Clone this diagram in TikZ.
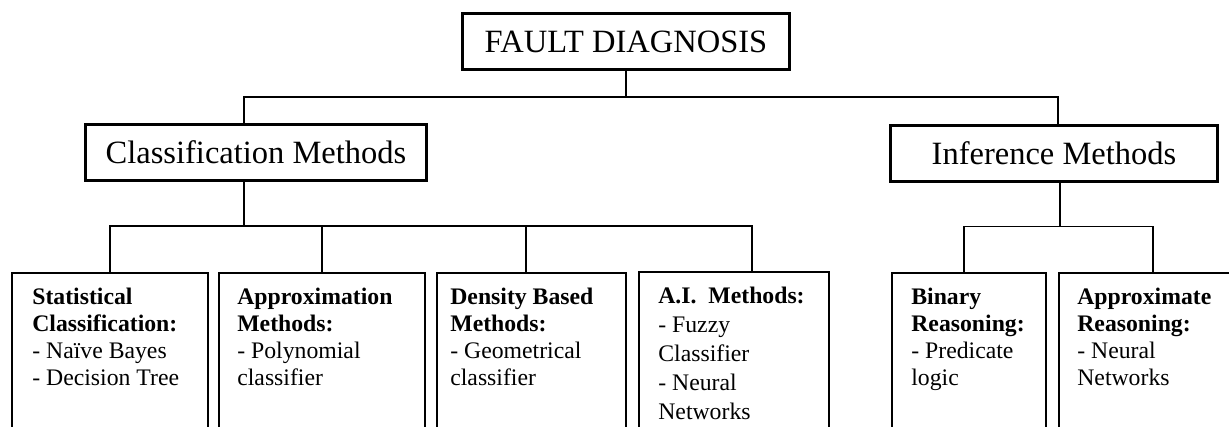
\documentclass[tikz,border=0pt]{standalone}
\usepackage{fontspec}
\setmainfont{Liberation Serif}
\begin{document}
\begin{tikzpicture}[every node/.style={font=\fontsize{13.5}{15.3}\selectfont},
  head/.style={draw, line width=1.9pt, minimum height=1.12cm, font=\fontsize{18.5}{22}\selectfont},
  leaf/.style={draw, line width=1pt, anchor=north west, minimum height=3.6cm},
  txt/.style={anchor=north west, align=left, inner sep=0pt},
  conn/.style={line width=0.8pt}]
  \useasboundingbox (0,0) rectangle (24.58,-8.54);
  \clip (0,0) rectangle (24.58,-8.54);
  % top levels
  \node[head, minimum width=6.54cm] (fd) at (12.52,-0.83) {FAULT DIAGNOSIS};
  \node[head, minimum width=6.82cm] (cls) at (5.12,-3.05) {Classification Methods};
  \node[head, minimum width=6.54cm] (inf) at (21.08,-3.07) {Inference Methods};
  % classification leaves
  \node[leaf, minimum width=3.92cm] (stat) at (0.22,-5.44) {};
  \node[leaf, minimum width=4.12cm] (appr) at (4.36,-5.44) {};
  \node[leaf, minimum width=3.78cm] (dens) at (8.72,-5.44) {};
  \node[leaf, minimum width=3.80cm] (ai) at (12.76,-5.42) {};
  \node[txt] (statT) at (0.64,-5.76) {\textbf{Statistical}\\\textbf{Classification:}\\- Naïve Bayes\\- Decision Tree};
  \node[txt] (apprT) at (4.74,-5.76) {\textbf{Approximation}\\\textbf{Methods:}\\- Polynomial\\classifier};
  \node[txt] (densT) at (9.00,-5.76) {\textbf{Density Based}\\\textbf{Methods:}\\- Geometrical\\classifier};
  \node[txt, font=\fontsize{13.5}{16.4}\selectfont] (aiT) at (13.16,-5.74) {\textbf{A.I.\ \ Methods:}\\- Fuzzy\\Classifier\\- Neural\\Networks};
  % inference leaves
  \node[leaf, minimum width=3.08cm] (bin) at (17.82,-5.44) {};
  \node[leaf, minimum width=3.76cm] (apx) at (21.16,-5.44) {};
  \node[txt] (binT) at (18.22,-5.76) {\textbf{Binary}\\\textbf{Reasoning:}\\- Predicate\\logic};
  \node[txt] (apxT) at (21.54,-5.76) {\textbf{Approximate}\\\textbf{Reasoning:}\\- Neural\\Networks};
  % connectors
  \draw[conn] (fd.south) -- ++(0,-0.52) coordinate (j0);
  \draw[conn] ([xshift=-0.24cm]cls.north) |- (j0) -| ([xshift=0.08cm]inf.north);
  \draw[conn] ([xshift=-0.24cm]cls.south) -- ++(0,-0.88) coordinate (j1);
  \draw[conn] (stat.north) |- (j1) -| ([xshift=0.36cm]ai.north);
  \draw[conn] (appr.north) -- (appr.north |- j1);
  \draw[conn] ([xshift=-0.11cm]dens.north) -- ([xshift=-0.11cm]dens.north |- j1);
  \draw[conn] ([xshift=0.12cm]inf.south) -- ++(0,-0.87) coordinate (j2);
  \draw[conn] ([xshift=-0.10cm]bin.north) |- (j2) -| (apx.north);
\end{tikzpicture}
\end{document}
